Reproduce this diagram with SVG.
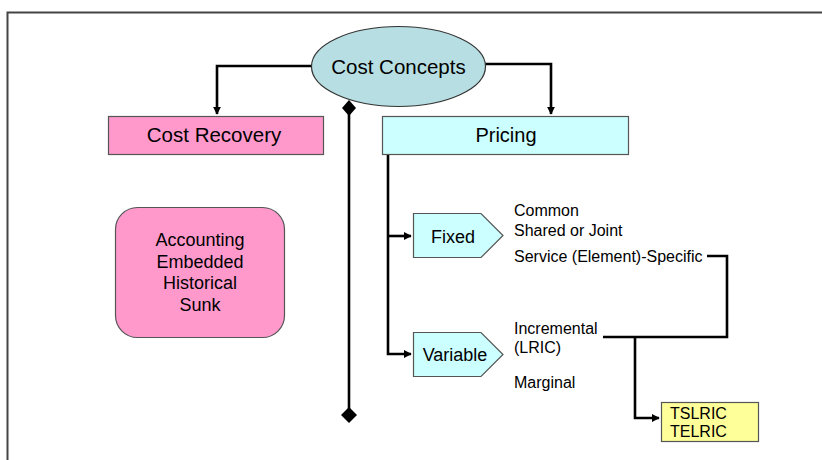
<svg xmlns="http://www.w3.org/2000/svg" width="822" height="460" viewBox="0 0 822 460">
<style>
text{font-family:"Liberation Sans",Arial,sans-serif;fill:#000}
.c{text-anchor:middle}
.lbl{font-size:16px}
.box{stroke:#555;stroke-width:1.2}
.ln{fill:none;stroke:#000;stroke-width:2.6}
</style>
<defs>
<marker id="ah" viewBox="0 0 10 10" refX="9" refY="5" markerWidth="3" markerHeight="3" orient="auto" markerUnits="strokeWidth">
<path d="M0,0 L10,5 L0,10 z" fill="#000"/>
</marker>
</defs>
<rect width="822" height="460" fill="#fff"/>
<path d="M7.5,465 L7.5,12.5 L830,12.5" fill="none" stroke="#444" stroke-width="2"/>

<g id="connectors">
<path class="ln" d="M312,66 L217,66 L217,114" marker-end="url(#ah)"/>
<path class="ln" d="M485,64 L551,64 L551,114" marker-end="url(#ah)"/>
<path class="ln" d="M349,108 L349,415" stroke-width="3"/>
<path d="M349,100 L356,108 L349,116 L342,108 z" fill="#000"/>
<path d="M349,407 L357,415 L349,423 L341,415 z" fill="#000"/>
<path class="ln" d="M388,155 L388,354 L411,354" marker-end="url(#ah)"/>
<path class="ln" d="M388,236 L411,236" marker-end="url(#ah)"/>
<path class="ln" d="M707,256 L727,256 L727,337 L603,337"/>
<path class="ln" d="M635,337 L635,418 L659,418" marker-end="url(#ah)"/>
</g>

<g id="cost-concepts">
<ellipse cx="398.5" cy="66.5" rx="87" ry="40" fill="#B7DFE3" stroke="#333" stroke-width="1.2"/>
<text class="c" x="398.5" y="73.5" font-size="20.5">Cost Concepts</text>
</g>

<g id="cost-recovery">
<rect class="box" x="108.5" y="116.5" width="215" height="38" fill="#FF99CC"/>
<text class="c" x="214" y="142" font-size="20.5">Cost Recovery</text>
</g>

<g id="pricing">
<rect class="box" x="382.5" y="116.5" width="246" height="38" fill="#CCFFFF"/>
<text class="c" x="506" y="142" font-size="20">Pricing</text>
</g>

<g id="accounting">
<rect class="box" x="115.5" y="207.5" width="169" height="130" rx="22" ry="22" fill="#FF99CC" stroke="#333"/>
<text class="c" x="200" y="246" font-size="18">Accounting</text>
<text class="c" x="200" y="267.5" font-size="18">Embedded</text>
<text class="c" x="200" y="289" font-size="18">Historical</text>
<text class="c" x="200" y="311" font-size="18">Sunk</text>
</g>

<g id="fixed">
<path class="box" d="M413.5,213.5 L481,213.5 L503,235.5 L481,257.5 L413.5,257.5 z" fill="#CCFFFF"/>
<text class="c" x="453" y="243" font-size="18">Fixed</text>
</g>

<g id="variable">
<path class="box" d="M413.5,332.5 L481,332.5 L503,354.5 L481,376.5 L413.5,376.5 z" fill="#CCFFFF"/>
<text class="c" x="455" y="361" font-size="18">Variable</text>
</g>

<g id="fixed-labels">
<text class="lbl" x="514" y="216">Common</text>
<text class="lbl" x="514" y="236">Shared or Joint</text>
<text class="lbl" x="514" y="262">Service (Element)-Specific</text>
</g>

<g id="variable-labels">
<text class="lbl" x="514" y="334">Incremental</text>
<text class="lbl" x="514" y="353">(LRIC)</text>
<text class="lbl" x="514" y="388">Marginal</text>
</g>

<g id="tslric">
<rect class="box" x="661.5" y="402.5" width="97" height="39" fill="#FFFF99" stroke="#222"/>
<text x="670" y="419" font-size="16">TSLRIC</text>
<text x="670" y="437" font-size="16">TELRIC</text>
</g>
</svg>
